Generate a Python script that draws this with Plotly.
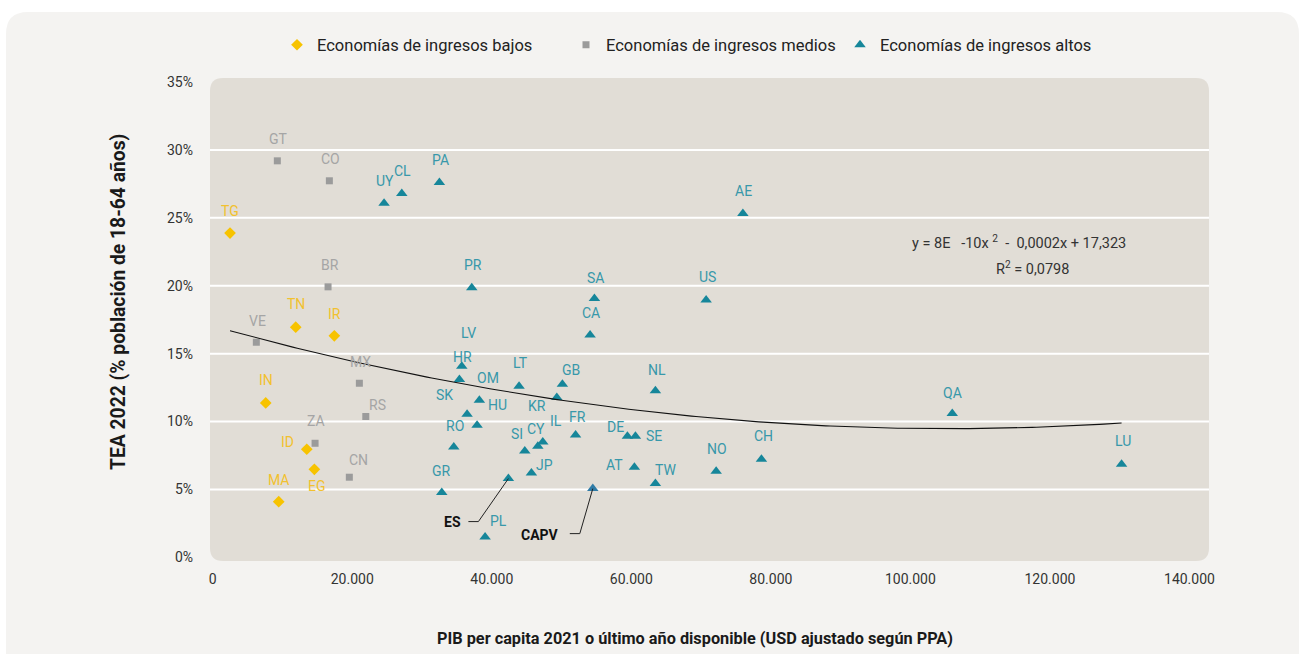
import numpy as np
import plotly.graph_objects as go

# ---------------- data ----------------
low_codes = ["TG", "TN", "IR", "IN", "ID", "EG", "MA"]
low_gdp = [2480, 11900, 17430, 7600, 13480, 14570, 9460]
low_tea = [23.88, 16.95, 16.31, 11.37, 7.96, 6.48, 4.10]

mid_codes = ["GT", "CO", "BR", "VE", "MX", "RS", "ZA", "CN"]
mid_gdp = [9260, 16720, 16530, 6250, 21020, 21940, 14670, 19580]
mid_tea = [29.20, 27.73, 19.92, 15.84, 12.82, 10.37, 8.40, 5.90]

high_codes = ["UY", "CL", "PA", "PR", "AE", "SA", "US", "CA", "NL", "GB",
              "LV", "HR", "LT", "OM", "KR", "SK", "HU", "FR", "DE", "SE",
              "RO", "IL", "CY", "SI", "JP", "AT", "TW", "NO", "CH", "QA",
              "LU", "GR", "ES", "PL"]
high_gdp = [24560, 27100, 32490, 37130, 75990, 54710, 70720, 54090, 63450, 50120,
            35700, 35360, 43910, 38220, 49320, 36460, 37890, 52010, 59440, 60590,
            34550, 47310, 46600, 44730, 45680, 60440, 63450, 72160, 78650, 106000,
            130270, 32830, 42380, 39040]
high_tea = [26.07, 26.80, 27.61, 19.85, 25.33, 19.06, 18.96, 16.38, 12.27, 12.75,
            14.08, 13.10, 12.60, 11.57, 11.77, 10.54, 9.73, 9.01, 8.92, 8.92,
            8.13, 8.50, 8.18, 7.83, 6.21, 6.63, 5.43, 6.34, 7.22, 10.59,
            6.85, 4.77, 5.80, 1.50]

capv_code = "CAPV"
capv_gdp = 54480
capv_tea = 5.06

legend_names = ["Economías de ingresos bajos", "Economías de ingresos medios",
                "Economías de ingresos altos"]
x_ticks = [0, 20000, 40000, 60000, 80000, 100000, 120000, 140000]
y_ticks = [0, 5, 10, 15, 20, 25, 30, 35]
y_tick_text = ["0%", "5%", "10%", "15%", "20%", "25%", "30%", "35%"]
equation_text = "y = 8E   -10x <sup>2</sup>  -  0,0002x + 17,323"
r2_text = "R<sup>2</sup> = 0,0798"
x_title = "PIB per capita 2021 o último año disponible (USD ajustado según PPA)"
y_title = "TEA 2022 (% población de 18-64 años)"

# ---------------- styles / label offsets (pixels) ----------------
label_offsets = {
    "TG": (0, -22), "TN": (0, -23), "IR": (0, -22), "IN": (0, -23), "ID": (-19, -7),
    "EG": (3, 17), "MA": (0, -22),
    "GT": (1, -22), "CO": (1, -22), "BR": (2, -22), "VE": (1, -21), "MX": (1, -21),
    "RS": (12, -12), "ZA": (1, -22), "CN": (9, -17),
    "UY": (1, -22), "CL": (1, -22), "PA": (1, -22), "PR": (1, -23), "AE": (1, -22),
    "SA": (1, -21), "US": (1, -23), "CA": (1, -22), "NL": (2, -21), "GB": (9, -14),
    "LV": (7, -33), "HR": (3, -22), "LT": (1, -23), "OM": (9, -22), "KR": (-20, 8),
    "SK": (-23, -19), "HU": (20, -20), "FR": (2, -18), "DE": (-12, -9), "SE": (19, 0),
    "RO": (1, -21), "IL": (13, -21), "CY": (-2, -17), "SI": (-8, -17), "JP": (13, -8),
    "AT": (-20, -2), "TW": (10, -14), "NO": (1, -22), "CH": (2, -23), "QA": (0, -21),
    "LU": (1, -23), "GR": (0, -22), "PL": (13, -16),
}

FONT = "Roboto"
C_LOW, C_LOW_TXT = "#f7c300", "#f2c12e"
C_MID, C_MID_TXT = "#9b9b9b", "#a5a5a5"
C_HIGH, C_HIGH_TXT = "#16869a", "#3898aa"
C_CAPV = "#2f7ba6"
PLOT_BG = "#e1ddd6"
CARD_BG = "#f4f3f1"

W, H = 1303, 654
ML, MR, MT, MB = 210, 94, 78, 93
PW, PH = W - ML - MR, H - MT - MB

fig = go.Figure()

fig.add_trace(go.Scatter(x=low_gdp, y=low_tea, mode="markers", name=legend_names[0],
                         legendwidth=244,
                         marker=dict(symbol="diamond", size=9, color=C_LOW)))
fig.add_trace(go.Scatter(x=mid_gdp, y=mid_tea, mode="markers", name=legend_names[1],
                         legendwidth=229,
                         marker=dict(symbol="square", size=7, color=C_MID)))
fig.add_trace(go.Scatter(x=high_gdp, y=high_tea, mode="markers", name=legend_names[2],
                         marker=dict(symbol="triangle-up", size=10, color=C_HIGH)))
fig.add_trace(go.Scatter(x=[capv_gdp], y=[capv_tea], mode="markers", showlegend=False,
                         marker=dict(symbol="triangle-up", size=10, color=C_CAPV)))

# polynomial (order 2) trend line fitted to the country data
all_x = np.array(low_gdp + mid_gdp + high_gdp, dtype=float)
all_y = np.array(low_tea + mid_tea + high_tea, dtype=float)
coef = np.polyfit(all_x, all_y, 2)
tx = np.linspace(all_x.min(), all_x.max(), 200)
ty = np.polyval(coef, tx)
fig.add_trace(go.Scatter(x=tx, y=ty, mode="lines", showlegend=False, hoverinfo="skip",
                         line=dict(color="#111111", width=1.1)))

annotations = []
for codes, xs, ys, col in [(low_codes, low_gdp, low_tea, C_LOW_TXT),
                           (mid_codes, mid_gdp, mid_tea, C_MID_TXT),
                           (high_codes, high_gdp, high_tea, C_HIGH_TXT)]:
    for c, xv, yv in zip(codes, xs, ys):
        if c == "ES":
            continue
        dx, dy = label_offsets[c]
        annotations.append(dict(x=xv, y=yv, text=c, showarrow=False, xshift=dx, yshift=-dy,
                                font=dict(family=FONT, size=14, color=col)))

shapes = []


def rounded_rect(x0, y0, x1, y1, r_px):
    rx, ry = r_px / PW, r_px / PH
    return (f"M {x0 + rx},{y0} L {x1 - rx},{y0} Q {x1},{y0} {x1},{y0 + ry} "
            f"L {x1},{y1 - ry} Q {x1},{y1} {x1 - rx},{y1} L {x0 + rx},{y1} "
            f"Q {x0},{y1} {x0},{y1 - ry} L {x0},{y0 + ry} Q {x0},{y0} {x0 + rx},{y0} Z")


# outer card
cx0, cx1 = (6 - ML) / PW, (1299 - ML) / PW
cy0, cy1 = (H - MB - 700) / PH, (H - MB - 12) / PH
shapes.append(dict(type="path", xref="paper", yref="paper", layer="below",
                   path=rounded_rect(cx0, cy0, cx1, cy1, 22), fillcolor=CARD_BG, line_width=0))
# plot area
shapes.append(dict(type="path", xref="paper", yref="paper", layer="below",
                   path=rounded_rect(0, 0, 1, 1, 13), fillcolor=PLOT_BG, line_width=0))
for yv in y_ticks[1:-1]:
    shapes.append(dict(type="line", xref="paper", yref="y", x0=0, x1=1, y0=yv, y1=yv,
                       layer="below", line=dict(color="white", width=2)))

# highlighted labels with leader lines (anchored on the data point, offsets in pixels)
es_i = high_codes.index("ES")
es_x, es_y = high_gdp[es_i], high_tea[es_i]
for (px, py, name, lab_dx, lab_dy, elb_dx, elb_dy) in [
        (es_x, es_y, "ES", -56, 43, -30, 43),
        (capv_gdp, capv_tea, capv_code, -53, 46, -13, 45)]:
    annotations.append(dict(x=px, y=py, text=f"<b>{name}</b>", showarrow=False,
                            xshift=lab_dx, yshift=-lab_dy,
                            font=dict(family=FONT, size=14, color="#111111")))
    shapes.append(dict(type="path", xref="x", yref="y", xsizemode="pixel", ysizemode="pixel",
                       xanchor=px, yanchor=py, layer="above",
                       path=f"M 0,0 L {elb_dx},{-elb_dy} L {elb_dx - 10},{-elb_dy}",
                       line=dict(color="#222222", width=1)))

annotations.append(dict(xref="paper", yref="paper", x=(1019 - ML) / PW, y=(H - MB - 242) / PH,
                        text=equation_text, showarrow=False, xanchor="center", yanchor="middle",
                        font=dict(family=FONT, size=14.5, color="#333333")))
annotations.append(dict(xref="paper", yref="paper", x=(1032 - ML) / PW, y=(H - MB - 268) / PH,
                        text=r2_text, showarrow=False, xanchor="center", yanchor="middle",
                        font=dict(family=FONT, size=14.5, color="#333333")))
annotations.append(dict(xref="paper", yref="paper", x=(695 - ML) / PW, y=(H - MB - 638) / PH,
                        text=f"<b>{x_title}</b>", showarrow=False, xanchor="center",
                        yanchor="middle",
                        font=dict(family=FONT, size=16.3, color="#1a1a1a")))
annotations.append(dict(xref="paper", yref="paper", x=(118 - ML) / PW, y=(H - MB - 302) / PH,
                        text=f"<b>{y_title}</b>", showarrow=False, textangle=-90,
                        xanchor="center", yanchor="middle",
                        font=dict(family=FONT, size=19.3, color="#1a1a1a")))

fig.update_layout(
    width=W, height=H,
    margin=dict(l=ML, r=MR, t=MT, b=MB),
    paper_bgcolor="white", plot_bgcolor="rgba(0,0,0,0)",
    separators=",.",
    font=dict(family=FONT, color="#333333"),
    showlegend=True,
    legend=dict(orientation="h", x=(277 - ML) / PW, y=(H - MB - 45) / PH,
                xanchor="left", yanchor="middle", bgcolor="rgba(0,0,0,0)",
                font=dict(family=FONT, size=16.5, color="#222222"), itemwidth=30),
    xaxis=dict(range=[-390, 142800], tickmode="array", tickvals=x_ticks, tickformat=",d",
               showgrid=False, zeroline=False, showline=False, ticks="",
               ticklabelstandoff=8, tickfont=dict(family=FONT, size=14, color="#333333")),
    yaxis=dict(range=[-0.27, 35.3], tickmode="array", tickvals=y_ticks, ticktext=y_tick_text,
               showgrid=False, zeroline=False, showline=False, ticks="",
               ticklabelstandoff=16, tickfont=dict(family=FONT, size=14, color="#333333")),
    annotations=annotations,
    shapes=shapes,
)

fig.write_html("out.html", config={"displayModeBar": False},
               post_script="document.body.style.margin='0px';")
